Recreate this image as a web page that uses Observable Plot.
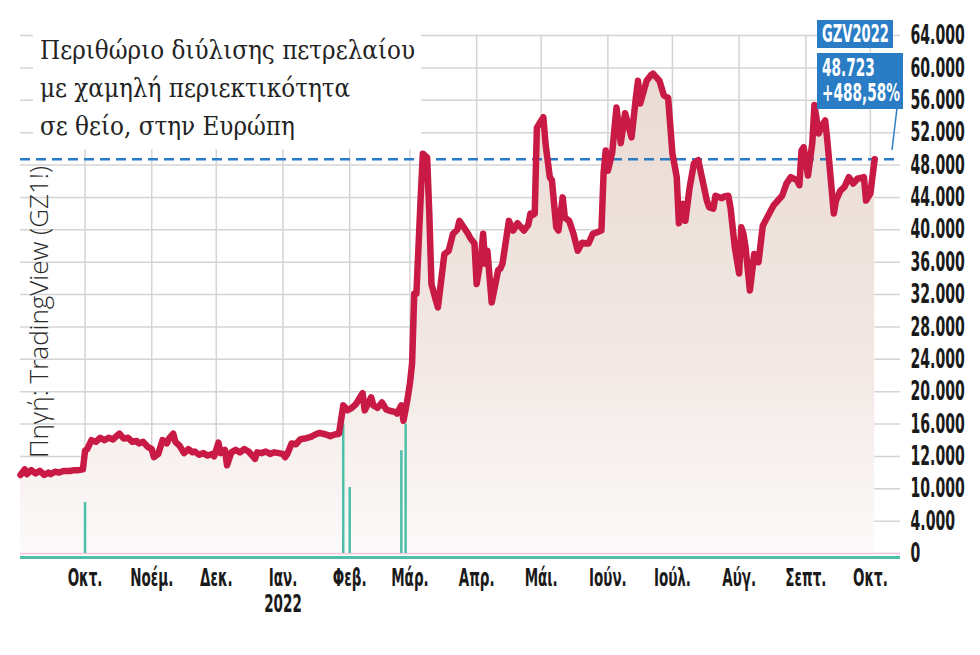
<!DOCTYPE html>
<html>
<head>
<meta charset="utf-8">
<script src="https://cdn.jsdelivr.net/npm/d3@7"></script>
<script src="https://cdn.jsdelivr.net/npm/@observablehq/plot@0.6"></script>
<style>
  body { margin: 0; background: #fff; }
  #wrap { position: relative; width: 980px; height: 655px; overflow: hidden; background: #fff; }
  #title { position: absolute; left: 33px; top: 28px; width: 388px; height: 121px; background: #fff;
           box-sizing: border-box; padding: 3px 0 0 7px; }
  #titleText { display: inline-block; transform-origin: 0 0; font-family: "DejaVu Serif", serif; font-stretch: condensed;
               font-size: 26px; line-height: 38px; color: #222; white-space: nowrap; }
  #source { position: absolute; left: 38px; top: 312px; transform: translate(-50%, -50%) rotate(-90deg);
            font-family: "Open Sans", "DejaVu Sans", sans-serif; font-weight: 300; font-size: 26px;
            color: #2a2a2a; white-space: nowrap; }
  .box { position: absolute; background: #2a7dc4; color: #fff; box-sizing: border-box; overflow: hidden; }
  .box span { display: inline-block; transform-origin: 0 0; font-family: "DejaVu Sans Condensed", "DejaVu Sans", sans-serif;
              font-stretch: condensed; font-weight: bold; white-space: nowrap; }
  #box1 { left: 817px; top: 20px; width: 76px; height: 28px; padding: 0 0 0 5px; }
  #box1 span { font-size: 25px; line-height: 28px; }
  #box2 { left: 817px; top: 53px; width: 86px; height: 56px; padding: 3px 0 0 5px; }
  #box2 span { font-size: 24px; line-height: 25px; }
  #overlay { position: absolute; left: 0; top: 0; pointer-events: none; }
</style>
</head>
<body>
<div id="wrap"></div>
<script>
// ---- data ----
const startDate = "2021-09-01"; // day 0
const days = [
  0,2,3,5,7,9,11,13,14,16,
  18,20,23,25,27,29,30,31,33,35,
  37,39,41,43,45,46,48,50,52,54,
  55,57,59,61,62,64,66,68,69,71,
  72,74,76,78,80,81,83,85,87,89,
  90,92,93,95,96,98,100,102,104,106,
  108,109,110,112,114,116,118,120,122,123,
  124,126,128,130,132,135,137,139,142,144,
  146,148,149,150,152,154,156,159,160,163,
  164,166,168,170,172,174,175,177,178,179,
  180,181,182,183,184,186,187,189,190,191,
  193,194,197,199,201,203,204,206,208,209,
  211,212,214,215,216,217,219,222,223,224,
  227,229,231,234,236,237,238,239,240,243,
  244,246,247,249,250,252,253,255,257,259,
  261,264,266,268,270,271,272,273,275,277,
  279,281,284,286,287,288,291,293,294,297,
  299,301,303,305,306,308,309,311,313,315,
  317,319,320,322,323,326,327,329,330,332,
  334,335,336,337,339,341,343,345,348,350,
  354,356,358,361,362,363,364,366,368,369,
  371,372,374,375,378,379,381,383,385,387,
  389,392,393,395,397
];
const margins = [
  9700,10400,9800,10300,9900,10200,9700,10000,9800,10100,
  10000,10200,10200,10300,10300,10400,12700,12900,14000,13800,
  14300,14000,14300,14100,14600,14800,14200,14300,13800,13900,
  13600,13800,13200,12900,11900,12300,14000,13600,14200,14800,
  13800,13300,12400,12900,12500,12600,12200,12400,12100,12300,
  12000,13700,12400,12800,10900,12500,12800,12500,12900,12600,
  12000,11700,12500,12400,12600,12300,12500,12400,12300,11900,
  12300,13600,13500,14100,14200,14400,14700,14900,14700,14500,
  14700,14800,16500,18300,17700,18000,18500,19800,17700,19300,
  18300,18000,18650,17800,17600,17500,17300,18300,16400,17800,
  19300,21000,23500,32100,32100,44000,49400,48900,42000,33300,
  31300,30400,37000,37400,39500,40000,41100,40300,39500,39000,
  38300,33300,36500,39500,35800,37400,31000,35000,35200,35800,
  41100,39900,40800,39900,40600,42000,41800,42000,52600,53900,
  50700,46500,46100,40300,39900,44000,41500,41100,39500,37400,
  38400,38300,39500,39700,39900,47000,49800,47300,49500,55100,
  50700,54400,51400,56300,58400,55600,58400,59100,59300,58400,
  56600,56300,49400,46500,40800,43200,41100,45200,48200,48600,
  46100,43600,42800,42600,44200,43900,44100,44200,42700,37800,
  34600,40300,39500,37800,32500,37000,36000,40500,42000,43000,
  44200,45700,46500,46100,45500,49800,50200,46700,50700,55400,
  51900,52600,53500,51000,42000,43600,44800,45300,46500,45700,
  46300,46500,43600,44500,48723
];
const volumeDays = [30, 150, 153, 177, 179];
const volumeValues = [6300, 16000, 8150, 12700, 16000];

const xDomain = ["2021-09-01", "2022-10-15"];
const monthTicks = ["2021-10-01","2021-11-01","2021-12-01","2022-01-01","2022-02-01","2022-03-01",
                    "2022-04-01","2022-05-01","2022-06-01","2022-07-01","2022-08-01","2022-09-01","2022-10-01"];
const monthLabels = ["Οκτ.","Νοέμ.","Δεκ.","Ιαν.\n2022","Φεβ.","Μάρ.","Απρ.","Μάι.","Ιούν.","Ιούλ.","Αύγ.","Σεπτ.","Οκτ."];
const yTicks = [0,4000,8000,12000,16000,20000,24000,28000,32000,36000,40000,44000,48000,52000,56000,60000,64000];
const yTickLabels = ["0","4.000","10.000","12.000","16.000","20.000","24.000","28.000","32.000","36.000","40.000","44.000","48.000","52.000","56.000","60.000","64.000"];
const titleLines = ["Περιθώριο διύλισης πετρελαίου", "με χαμηλή περιεκτικότητα", "σε θείο, στην Ευρώπη"];
const sourceText = "Πηγή: TradingView (GZ1!)";
const tickerLabel = "GZV2022";
const lastValueLabel = "48.723";
const changeLabel = "+488,58%";

// ---- build ----
const d0 = new Date(startDate + "T00:00:00Z");
const data = days.map((d, i) => ({date: d3.utcDay.offset(d0, d), value: margins[i]}));
const volume = volumeDays.map((d, i) => ({date: d3.utcDay.offset(d0, d), value: volumeValues[i]}));
const tickDates = monthTicks.map(s => new Date(s + "T00:00:00Z"));
const monthLabelMap = new Map(tickDates.map((t, i) => [+t, monthLabels[i]]));
const yLabelMap = new Map(yTicks.map((v, i) => [v, yTickLabels[i]]));
const lastValue = margins[margins.length - 1];

const condensedFont = '"DejaVu Sans Condensed", "DejaVu Sans", sans-serif';

const chart = Plot.plot({
  width: 980,
  height: 655,
  marginLeft: 20,
  marginRight: 80,
  marginTop: 35,
  marginBottom: 102,
  style: {fontFamily: condensedFont, fontSize: "26px", color: "#1a1a1a", background: "#fff"},
  x: {type: "utc", domain: xDomain.map(s => new Date(s + "T00:00:00Z"))},
  y: {domain: [0, 64000]},
  marks: [
    Plot.gridX(tickDates, {stroke: "#d4d4d4", strokeOpacity: 1, strokeWidth: 1.5}),
    Plot.gridY(yTicks, {stroke: "#d4d4d4", strokeOpacity: 1, strokeWidth: 1.5}),
    Plot.areaY(data, {x: "date", y: "value", fill: "url(#marginFill)"}),
    Plot.ruleY([0], {stroke: "#f3c9dc", strokeWidth: 1.5}),
    Plot.ruleX(volume, {x: "date", y1: 0, y2: "value", stroke: "#4dbfa9", strokeWidth: 2.5}),
    Plot.ruleY([0], {stroke: "#4dbfa9", strokeWidth: 3, dy: 4}),
    Plot.ruleY([lastValue], {stroke: "#2a7dc4", strokeWidth: 2.5, strokeDasharray: "10,6"}),
    Plot.lineY(data, {x: "date", y: "value", stroke: "#c81a45", strokeWidth: 6.5, strokeLinejoin: "round"}),
    Plot.axisX({ticks: tickDates, tickFormat: d => monthLabelMap.get(+d), tickSize: 0, tickPadding: 14,
                fontSize: 25, fontWeight: "bold", lineHeight: 1.04}),
    Plot.axisY({anchor: "right", ticks: yTicks, tickFormat: v => yLabelMap.get(v), tickSize: 0, tickPadding: 10,
                fontSize: 27, fontWeight: "bold", label: null})
  ]
});

const svg = d3.select(chart);
const grad = svg.insert("defs", ":first-child").append("linearGradient")
  .attr("id", "marginFill").attr("x1", 0).attr("y1", 0).attr("x2", 0).attr("y2", 1);
grad.append("stop").attr("offset", "0%").attr("stop-color", "#eadad3");
grad.append("stop").attr("offset", "60%").attr("stop-color", "#f2e8e4");
grad.append("stop").attr("offset", "100%").attr("stop-color", "#fcfafa");
svg.selectAll('g[aria-label="y-axis tick label"], g[aria-label="x-axis tick label"]').attr("fill", "#1a1a1a");

const wrap = document.getElementById("wrap");
wrap.appendChild(chart);

// horizontally condense the axis tick labels (narrow display face) with textLength
function condense(selector, s) {
  svg.selectAll(selector).each(function() {
    const spans = this.querySelectorAll("tspan");
    const targets = spans.length ? Array.from(spans) : [this];
    for (const el of targets) {
      const len = el.getComputedTextLength();
      if (len > 0) {
        el.setAttribute("textLength", (len * s).toFixed(1));
        el.setAttribute("lengthAdjust", "spacingAndGlyphs");
      }
    }
  });
}
condense('g[aria-label="y-axis tick label"] text', 0.58);
condense('g[aria-label="x-axis tick label"] text', 0.6);

const title = document.createElement("div");
title.id = "title";
const titleText = document.createElement("div");
titleText.id = "titleText";
titleText.innerHTML = titleLines.join("<br>");
title.appendChild(titleText);
wrap.appendChild(title);
const tw = titleText.getBoundingClientRect().width;
titleText.style.transform = `scaleX(${375 / tw})`;

const src = document.createElement("div");
src.id = "source";
src.textContent = sourceText;
wrap.appendChild(src);

// pointer from label box to the dashed line end
const ov = d3.select(wrap).append("svg").attr("id", "overlay").attr("width", 980).attr("height", 655);
ov.append("line").attr("x1", 897).attr("y1", 108).attr("x2", 892).attr("y2", 150)
  .attr("stroke", "#2a7dc4").attr("stroke-width", 1.5);

function makeBox(id, lines, targetWidth) {
  const b = document.createElement("div");
  b.className = "box"; b.id = id;
  const s = document.createElement("span");
  s.innerHTML = lines.join("<br>");
  b.appendChild(s);
  wrap.appendChild(b);
  const w = s.getBoundingClientRect().width;
  s.style.transform = `scaleX(${targetWidth / w})`;
}
makeBox("box1", [tickerLabel], 67);
makeBox("box2", [lastValueLabel, changeLabel], 78);
</script>
</body>
</html>
